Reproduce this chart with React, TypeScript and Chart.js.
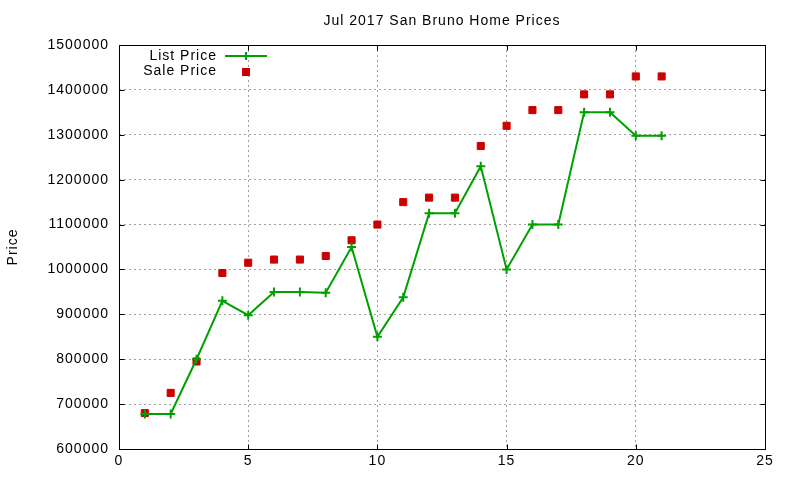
import { useEffect, useRef } from 'react';
import { Chart, registerables, type Plugin } from 'chart.js';

Chart.register(...registerables);

// ── Data ─────────────────────────────────────────────────────────────────────

const SALE_NUMBERS = [1, 2, 3, 4, 5, 6, 7, 8, 9, 10, 11, 12, 13, 14, 15, 16, 17, 18, 19, 20, 21];

const LIST_PRICE = [
  678000, 678000, 800000, 930000, 898000, 950000, 950000, 948000, 1050000, 850000,
  938000, 1125000, 1125000, 1230000, 1000000, 1100000, 1100000, 1350000, 1350000, 1298000,
  1298000,
];

const SALE_PRICE = [
  680000, 725000, 795000, 992000, 1015000, 1022000, 1022000, 1030000, 1065000, 1100000,
  1150000, 1160000, 1160000, 1275000, 1320000, 1355000, 1355000, 1390000, 1390000, 1430000,
  1430000,
];

const TITLE = 'Jul 2017 San Bruno Home Prices';
const Y_LABEL = 'Price';

const GREEN = '#00a000';
const RED = '#cc0000';
const FONT = "'Liberation Sans', Arial, sans-serif";

// ── gnuplot-ish decorations ─────────────────────────────────────────────────

const gnuplotDecor: Plugin<'line'> = {
  id: 'gnuplotDecor',
  beforeDraw(chart) {
    (chart.ctx as any).letterSpacing = '1px';
  },
  afterDraw(chart) {
    const { ctx, chartArea: a, scales } = chart;
    const L = Math.round(a.left) + 0.5;
    const R = Math.round(a.right) + 0.5;
    const T = Math.round(a.top) + 0.5;
    const B = Math.round(a.bottom) + 0.5;
    const tic = 5;

    ctx.save();
    (ctx as any).letterSpacing = '1px';
    ctx.strokeStyle = '#000';
    ctx.lineWidth = 1;

    // frame
    ctx.strokeRect(L, T, R - L, B - T);

    // inward tick marks, mirrored
    ctx.beginPath();
    for (const t of scales.x.ticks) {
      const px = Math.round(scales.x.getPixelForValue(t.value)) + 0.5;
      ctx.moveTo(px, B); ctx.lineTo(px, B - tic);
      ctx.moveTo(px, T); ctx.lineTo(px, T + tic);
    }
    for (const t of scales.y.ticks) {
      const py = Math.round(scales.y.getPixelForValue(t.value)) + 0.5;
      ctx.moveTo(L, py); ctx.lineTo(L + tic, py);
      ctx.moveTo(R, py); ctx.lineTo(R - tic, py);
    }
    ctx.stroke();

    ctx.fillStyle = '#000';
    ctx.font = `14px ${FONT}`;
    ctx.textBaseline = 'middle';

    // title
    ctx.textAlign = 'center';
    ctx.fillText(TITLE, (a.left + a.right) / 2, 21);

    // y label
    ctx.save();
    ctx.translate(13, (a.top + a.bottom) / 2);
    ctx.rotate(-Math.PI / 2);
    ctx.fillText(Y_LABEL, 0, 0);
    ctx.restore();

    // key
    ctx.textAlign = 'right';
    ctx.fillText('List Price', 217, 56);
    ctx.fillText('Sale Price', 217, 71);

    ctx.strokeStyle = GREEN;
    ctx.lineWidth = 2;
    ctx.beginPath();
    ctx.moveTo(225, 56); ctx.lineTo(267, 56);
    ctx.moveTo(246, 52); ctx.lineTo(246, 60);
    ctx.stroke();

    ctx.fillStyle = RED;
    ctx.fillRect(242, 68, 8, 8);

    ctx.restore();
  },
};

// ── Chart ───────────────────────────────────────────────────────────────────

export default function App() {
  const canvasRef = useRef<HTMLCanvasElement>(null);

  useEffect(() => {
    document.body.style.margin = '0';
    if (!canvasRef.current) return;

    const grid = {
      color: '#a0a0a0',
      lineWidth: 1,
      drawTicks: false,
    };

    const chart = new Chart(canvasRef.current, {
      type: 'line',
      data: {
        datasets: [
          {
            label: 'List Price',
            data: SALE_NUMBERS.map((x, i) => ({ x, y: LIST_PRICE[i] })),
            borderColor: GREEN,
            backgroundColor: GREEN,
            borderWidth: 2,
            pointStyle: 'cross',
            pointRadius: 4.5,
            pointBorderWidth: 2,
            pointBorderColor: GREEN,
            tension: 0,
            fill: false,
          },
          {
            label: 'Sale Price',
            data: SALE_NUMBERS.map((x, i) => ({ x, y: SALE_PRICE[i] })),
            showLine: false,
            borderColor: RED,
            backgroundColor: RED,
            pointStyle: 'rect',
            pointRadius: 5,
            pointBorderWidth: 1,
            pointBorderColor: RED,
            pointBackgroundColor: RED,
          },
        ],
      },
      options: {
        responsive: false,
        animation: false,
        layout: { padding: { top: 45, right: 35, left: 0, bottom: 0 } },
        plugins: {
          legend: { display: false },
          tooltip: { enabled: false },
          title: { display: false },
        },
        scales: {
          x: {
            type: 'linear',
            min: 0,
            max: 25,
            grid,
            border: { display: false, dash: [2, 3] },
            ticks: {
              stepSize: 5,
              color: '#000',
              font: { family: FONT, size: 14 },
              padding: 4,
              maxRotation: 0,
            },
            afterFit: (s) => { s.height = 31; },
          },
          y: {
            type: 'linear',
            min: 600000,
            max: 1500000,
            grid,
            border: { display: false, dash: [2, 3] },
            ticks: {
              stepSize: 100000,
              color: '#000',
              font: { family: FONT, size: 14 },
              padding: 10,
              callback: (v) => String(v),
            },
            afterFit: (s) => { s.width = 119; },
          },
        },
      },
      plugins: [gnuplotDecor],
    });

    return () => chart.destroy();
  }, []);

  return (
    <div style={{ width: 800, height: 480, background: '#fff' }}>
      <canvas ref={canvasRef} width={800} height={480} />
    </div>
  );
}
